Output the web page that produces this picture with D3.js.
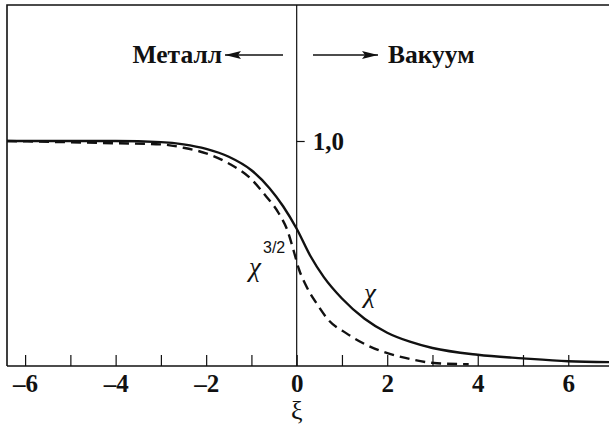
<!DOCTYPE html>
<html>
<head>
<meta charset="utf-8">
<style>
  body { margin: 0; background: #fff; }
  svg { display: block; font-family: "Liberation Serif", "Times New Roman", serif; }
</style>
</head>
<body>
<svg id="chart"></svg>
<script src="https://d3js.org/d3.v7.min.js"></script>
<script>
  // chi (solid)
  const chiXi  = [-6.4, -5, -4, -3, -2.5, -2, -1.5, -1, -0.6, -0.3, 0, 0.3, 0.6, 1, 1.5, 2, 2.5, 3, 4, 5, 6, 6.9];
  const chiVal = [1.0, 1.0, 1.0, 0.995, 0.985, 0.965, 0.93, 0.87, 0.79, 0.71, 0.61, 0.49, 0.395, 0.3, 0.21, 0.148, 0.108, 0.08, 0.05, 0.034, 0.021, 0.017];

  // chi^(3/2) (dashed)
  const chi32Xi  = [-6.4, -4, -3, -2.5, -2, -1.5, -1, -0.7, -0.4, -0.2, -0.05, 0.05, 0.2, 0.45, 0.7, 1.1, 1.6, 2.4, 3.1, 3.8];
  const chi32Val = [1.0, 0.99, 0.985, 0.97, 0.945, 0.9, 0.83, 0.76, 0.68, 0.6, 0.5, 0.43, 0.36, 0.275, 0.205, 0.145, 0.088, 0.036, 0.012, 0.008];

  const xTicks = [-6, -5, -4, -3, -2, -1, 0, 1, 2, 3, 4, 5, 6];
  const yTicks = [1];

  const width = 610, height = 430;
  const mLeft = 7, mRight = 609, mTop = 5, mBottom = 366;
  const serif = "'Liberation Serif', 'Times New Roman', serif";

  const svg = d3.select("#chart")
    .attr("width", width)
    .attr("height", height)
    .attr("viewBox", [0, 0, width, height]);

  const x = d3.scaleLinear().domain([-6.4, 6.9]).range([mLeft, mRight]);
  const y = d3.scaleLinear().domain([0, 1]).range([mBottom, 141]);

  // frame: top and left
  svg.append("path")
    .attr("d", `M${mLeft},${mBottom}V${mTop}H${mRight}`)
    .attr("fill", "none")
    .attr("stroke", "#111")
    .attr("stroke-width", 1.6);

  // bottom axis with inner ticks
  svg.append("g")
    .attr("transform", `translate(0,${mBottom})`)
    .call(d3.axisBottom(x)
      .tickValues(xTicks)
      .tickSizeInner(-11)
      .tickSizeOuter(0)
      .tickPadding(8)
      .tickFormat(d => d % 2 === 0 ? (d < 0 ? "–" + Math.abs(d) : String(d)) : ""))
    .call(g => g.select(".domain").attr("stroke", "#111").attr("stroke-width", 1.6)
      .attr("d", `M${mLeft},0H${mRight}`))
    .call(g => g.selectAll(".tick line").attr("stroke", "#111").attr("stroke-width", 1.2))
    .call(g => g.selectAll(".tick text")
      .attr("fill", "#111")
      .style("font-family", serif)
      .attr("font-weight", "bold")
      .attr("font-size", 25));

  // vertical axis at xi = 0
  svg.append("g")
    .attr("transform", `translate(${x(0)},0)`)
    .call(d3.axisRight(y)
      .tickValues(yTicks)
      .tickSizeInner(8)
      .tickSizeOuter(0)
      .tickPadding(8)
      .tickFormat(() => "1,0"))
    .call(g => g.select(".domain").attr("stroke", "#111").attr("stroke-width", 1.2)
      .attr("d", `M0,${mTop}V${mBottom}`))
    .call(g => g.selectAll(".tick line").attr("stroke", "#111").attr("stroke-width", 1.2))
    .call(g => g.selectAll(".tick text")
      .attr("fill", "#111")
      .style("font-family", serif)
      .attr("font-weight", "bold")
      .attr("font-size", 25));

  const line = d3.line()
    .x(d => x(d[0]))
    .y(d => y(d[1]))
    .curve(d3.curveMonotoneX);

  svg.append("path")
    .datum(d3.zip(chiXi, chiVal))
    .attr("fill", "none")
    .attr("stroke", "#111")
    .attr("stroke-width", 2.4)
    .attr("d", line);

  svg.append("path")
    .datum(d3.zip(chi32Xi, chi32Val))
    .attr("fill", "none")
    .attr("stroke", "#111")
    .attr("stroke-width", 2.4)
    .attr("stroke-dasharray", "10,6")
    .attr("d", line);

  // axis title
  svg.append("text")
    .attr("x", x(0))
    .attr("y", 419)
    .attr("text-anchor", "middle")
    .attr("font-size", 26)
    .attr("fill", "#111")
    .text("ξ");

  // curve labels
  svg.append("text")
    .attr("x", 370)
    .attr("y", 302)
    .attr("text-anchor", "middle")
    .attr("font-size", 27)
    .attr("font-style", "italic")
    .attr("fill", "#111")
    .text("χ");

  svg.append("text")
    .attr("x", 255)
    .attr("y", 276)
    .attr("text-anchor", "middle")
    .attr("font-size", 27)
    .attr("font-style", "italic")
    .attr("fill", "#111")
    .text("χ");

  svg.append("text")
    .attr("x", 263)
    .attr("y", 253)
    .attr("font-family", "'Liberation Sans', Arial, sans-serif")
    .attr("font-size", 16)
    .attr("fill", "#111")
    .text("3/2");

  // region labels with arrows
  const defs = svg.append("defs");
  defs.append("marker")
    .attr("id", "head")
    .attr("viewBox", "0 0 16 8")
    .attr("refX", 16)
    .attr("refY", 4)
    .attr("markerWidth", 16)
    .attr("markerHeight", 8)
    .attr("markerUnits", "userSpaceOnUse")
    .attr("orient", "auto")
    .append("path")
    .attr("d", "M0,0L16,4L0,8L3,4Z")
    .attr("fill", "#111");

  svg.append("line")
    .attr("x1", 283).attr("y1", 55).attr("x2", 225).attr("y2", 55)
    .attr("stroke", "#111").attr("stroke-width", 1.5)
    .attr("marker-end", "url(#head)");

  svg.append("line")
    .attr("x1", 313).attr("y1", 55).attr("x2", 378).attr("y2", 55)
    .attr("stroke", "#111").attr("stroke-width", 1.5)
    .attr("marker-end", "url(#head)");

  svg.append("text")
    .attr("x", 222)
    .attr("y", 63)
    .attr("text-anchor", "end")
    .attr("font-size", 25.5)
    .attr("font-weight", "bold")
    .attr("fill", "#111")
    .text("Металл");

  svg.append("text")
    .attr("x", 388)
    .attr("y", 63)
    .attr("font-size", 25.5)
    .attr("font-weight", "bold")
    .attr("fill", "#111")
    .text("Вакуум");
</script>
</body>
</html>
